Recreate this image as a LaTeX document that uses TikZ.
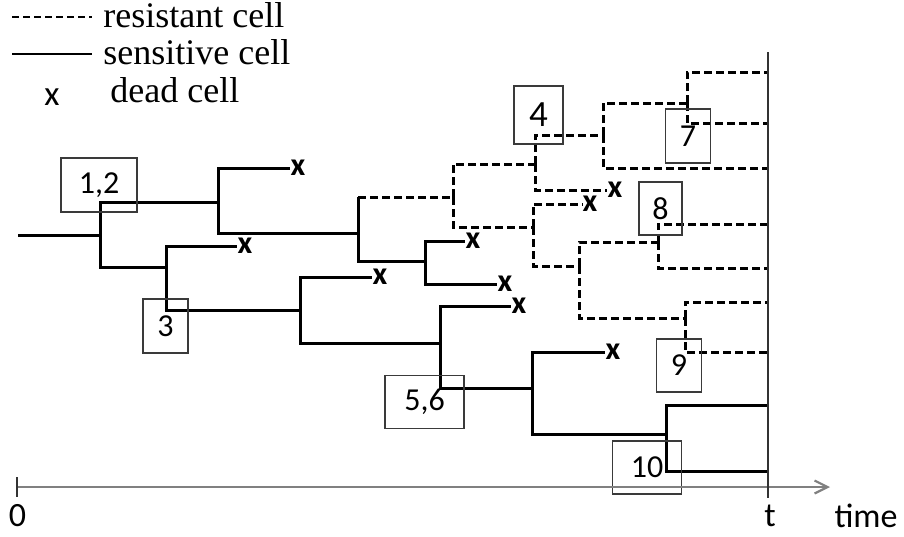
\documentclass[tikz,border=0pt]{standalone}
\usepackage{fontspec}
\setmainfont{Liberation Serif}
\newfontfamily\calfont{Carlito}
\usetikzlibrary{arrows.meta,calc}
\definecolor{ink}{HTML}{000000}
\definecolor{boxline}{HTML}{3A3A3A}
\definecolor{axisgray}{HTML}{808080}
\definecolor{tline}{HTML}{333333}
\tikzset{
  sens/.style={draw=ink, line width=1.5pt},
  resist/.style={draw=ink, line width=1.5pt, dash pattern=on 4pt off 2pt},
  numbox/.style={draw=boxline, line width=0.6pt, inner sep=0pt,
                 font=\calfont\fontsize{16}{17}\selectfont},
  dead/.style={inner sep=0pt, font=\calfont\bfseries\fontsize{16}{16}\selectfont},
  legtext/.style={anchor=west, inner sep=0pt, font=\fontsize{18}{20}\selectfont},
  axislbl/.style={inner sep=0pt, font=\calfont\fontsize{17}{18}\selectfont}
}

\begin{document}
\begin{tikzpicture}[x=0.5pt,y=-0.5pt]
        \useasboundingbox (0,0) rectangle (904,536);

        % legend
        \node[legtext] (lres) at (103,15) {resistant cell};
        \node[legtext] (lsen) at (103,52) {sensitive cell};
        \node[inner sep=0pt,font=\calfont\fontsize{17.5}{18}\selectfont] (lx) at (52,97) {x};
        \node[legtext] (ldead) at (110,90) {dead cell};
        \coordinate (lr) at (12,17);
        \coordinate (ls) at (12,54);
        \draw[resist,line width=1pt,dash pattern=on 3.5pt off 2pt,shorten >=5.5pt] (lr) -- (lr -| lres.west);
        \draw[sens,line width=1.2pt,shorten >=5.5pt] (ls) -- (ls -| lsen.west);

        % branch points
        \coordinate (r0) at (18,235);
        \coordinate (s1) at (100,235);
        \coordinate (s2) at (218,202);
        \coordinate (s3) at (358,233);
        \coordinate (s4) at (453,197);
        \coordinate (s5) at (535,164);
        \coordinate (s6) at (603,135);
        \coordinate (s7) at (687,103);
        \coordinate (s8) at (533,227);
        \coordinate (s9) at (579,266);
        \coordinate (s10) at (658,242);
        \coordinate (s11) at (685,318);
        \coordinate (s12) at (425,261);
        \coordinate (s13) at (166,267);
        \coordinate (s14) at (300,310);
        \coordinate (s15) at (440,343);
        \coordinate (s16) at (532,388);
        \coordinate (s17) at (666,434);

        % cells alive at time t
        \foreach \n/\y in {e1/72,e2/123,e3/168,e4/224,e5/268,e6/302,e7/352,e8/405,e9/471}
          {\coordinate (\n) at (768,\y);}

        % dead cells
        \foreach \n/\x/\y in {d1/298/168,d2/473/241,d3/505/284,d4/245/246,d5/380/277,
                              d6/519/306,d7/613/352,d8/615/190,d9/590/204}
          {\node[dead] (\n) at (\x,\y) {x};}

        % sensitive lineage
        \draw[sens] (r0) -- (s1);
        \foreach \a/\b in {s1/s2,s1/s13,s2/d1.west,s2/s3,s3/s12,s12/d2.west,s12/d3.west,
                           s13/d4.west,s13/s14,s14/d5.west,s14/s15,s15/d6.west,s15/s16,
                           s16/d7.west,s16/s17,s17/e8,s17/e9}
          {\draw[sens] (\a) |- (\b);}
        \draw[sens] (s3) -- (s3 |- s4);

        % resistant lineage
        \draw[resist] (s3 |- s4) -- (s4);
        \foreach \a/\b in {s4/s5,s4/s8,s5/s6,s5/d8.west,s6/s7,s6/e3,s7/e1,s7/e2,
                           s8/d9.west,s8/s9,s9/s10,s9/s11,s10/e4,s10/e5,s11/e6,s11/e7}
          {\draw[resist] (\a) |- (\b);}

        % numbered events
        \node[numbox,minimum width=38pt,minimum height=27pt] (b12) at (99,185) {1,2};
        \node[numbox,minimum width=22.5pt,minimum height=27pt] (b3) at (165.5,326) {3};
        \node[numbox,minimum width=24.5pt,minimum height=29pt,font=\calfont\fontsize{18.5}{19}\selectfont] (b4) at (538.5,115) {4};
        \node[numbox,minimum width=39.5pt,minimum height=26.5pt] (b56) at (424.5,402) {5,6};
        \node[numbox,minimum width=22.5pt,minimum height=27pt] (b7) at (688,136) {7};
        \node[numbox,minimum width=21.5pt,minimum height=26.5pt] (b8) at (660.5,208.5) {8};
        \node[numbox,minimum width=22.5pt,minimum height=26.5pt] (b9) at (679,365.5) {9};
        \node[numbox,minimum width=34.5pt,minimum height=26.5pt] (b10) at (647,467.5) {10};

        % time axis
        \coordinate (o) at (17,487);
        \coordinate (axend) at (830,487);
        \coordinate (ttop) at (768,52);
        \coordinate (tbot) at (768,498);
        \draw[draw=axisgray,line width=1.1pt,-{Straight Barb[length=6.5pt,width=6.5pt]}] (o) -- (axend);
        \draw[draw=tline,line width=0.6pt] (o) ++(0,-10) -- ++(0,20);
        \draw[draw=tline,line width=0.75pt] (ttop) -- (tbot);
        \node[axislbl] (zero) at (17.5,516) {0};
        \node[axislbl] (tlab) at (770,516) {t};
        \node[axislbl] (timelab) at (866,516) {time};
      \end{tikzpicture}
\end{document}
